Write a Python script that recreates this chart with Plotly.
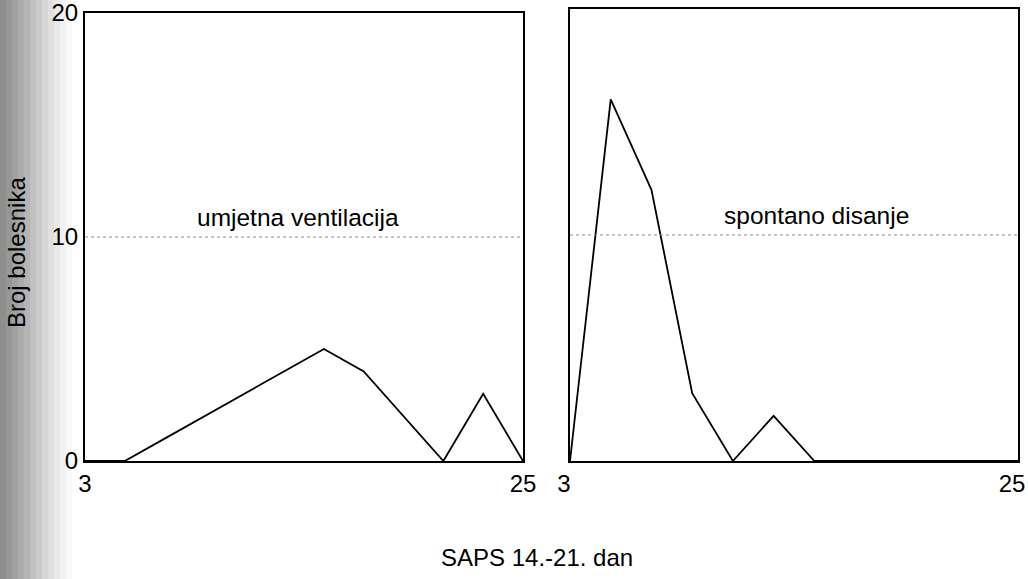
import plotly.graph_objects as go

saps = [3, 5, 7, 9, 11, 13, 15, 17, 19, 21, 23, 25]
umjetna_ventilacija = [0, 0, 1, 2, 3, 4, 5, 4, 2, 0, 3, 0]
spontano_disanje = [0, 16, 12, 3, 0, 2, 0, 0, 0, 0, 0, 0]
x_ticks = [3, 25]
y_ticks = [0, 10, 20]
panel_labels = ["umjetna ventilacija", "spontano disanje"]
reference_level = 10

W, H = 1028, 579


def px(x):
    return x / W


def py(y):
    return 1 - y / H


narrow = "Liberation Sans Narrow, Arial Narrow, sans-serif"
sans = "Liberation Sans, Arial, sans-serif"

fig = go.Figure()
fig.add_trace(go.Scatter(x=saps, y=umjetna_ventilacija, mode="lines",
                         line=dict(color="black", width=1.8), xaxis="x", yaxis="y",
                         showlegend=False, hoverinfo="skip"))
fig.add_trace(go.Scatter(x=saps, y=spontano_disanje, mode="lines",
                         line=dict(color="black", width=1.8), xaxis="x2", yaxis="y2",
                         showlegend=False, hoverinfo="skip"))

axis_common = dict(showline=True, mirror=True, linecolor="black", linewidth=2,
                   showgrid=False, zeroline=False, ticks="", ticklabeloverflow="allow",
                   automargin=False,
                   tickfont=dict(family=narrow, size=24, color="black"))

fig.update_layout(
    width=W, height=H,
    margin=dict(l=0, r=0, t=0, b=0, pad=0),
    paper_bgcolor="white", plot_bgcolor="white",
    xaxis=dict(domain=[px(85), px(523)], range=[3, 25], tickvals=x_ticks,
               anchor="y", ticklabelstandoff=0, **axis_common),
    xaxis2=dict(domain=[px(570), px(1018)], range=[3, 25], tickvals=x_ticks,
                anchor="y2", ticklabelstandoff=0, ticklabelshift=-6, **axis_common),
    yaxis=dict(domain=[py(461), py(13)], range=[0, 20], tickvals=y_ticks,
               anchor="x", **axis_common),
    yaxis2=dict(domain=[py(461), py(9)], range=[0, 20], tickvals=y_ticks,
                showticklabels=False, anchor="x2", **axis_common),
)

# dotted reference line at 10
for xr, yr in [("x", "y"), ("x2", "y2")]:
    fig.add_shape(type="line", xref=xr + " domain", yref=yr, x0=0, x1=1,
                  y0=reference_level, y1=reference_level,
                  line=dict(color="#8a8a8a", width=1, dash="dot"))

# scan shading at left edge
grays = ["#8e8e8e", "#979797", "#a1a1a1", "#ababab", "#b5b5b5", "#c0c0c0", "#cbcbcb",
         "#d6d6d6", "#e0e0e0", "#e9e9e9", "#f1f1f1", "#f8f8f8"]
for i, g in enumerate(grays):
    fig.add_shape(type="rect", xref="paper", yref="paper", x0=i * 6 / W, x1=(i + 1) * 6 / W,
                  y0=0, y1=1, fillcolor=g, line=dict(width=0), layer="below")

fig.add_annotation(x=13.7, y=reference_level, xref="x", yref="y", text=panel_labels[0],
                   showarrow=False, xanchor="center", yanchor="bottom", yshift=4,
                   font=dict(family=sans, size=24.5, color="black"))
fig.add_annotation(x=15.1, y=reference_level, xref="x2", yref="y2", text=panel_labels[1],
                   showarrow=False, xanchor="center", yanchor="bottom", yshift=4,
                   font=dict(family=sans, size=24.5, color="black"))

fig.add_annotation(x=px(16), y=py(253), xref="paper", yref="paper",
                   text="Broj bolesnika", textangle=-90, showarrow=False,
                   xanchor="center", yanchor="middle",
                   font=dict(family=sans, size=24, color="black"))
fig.add_annotation(x=px(537), y=py(557), xref="paper", yref="paper",
                   text="SAPS 14.-21. dan", showarrow=False,
                   xanchor="center", yanchor="middle",
                   font=dict(family=narrow, size=24, color="black"))

fig.write_html("out.html", config={"displayModeBar": False},
               post_script="document.body.style.margin='0';document.body.style.padding='0';"
                           "document.documentElement.style.overflow='hidden';")
